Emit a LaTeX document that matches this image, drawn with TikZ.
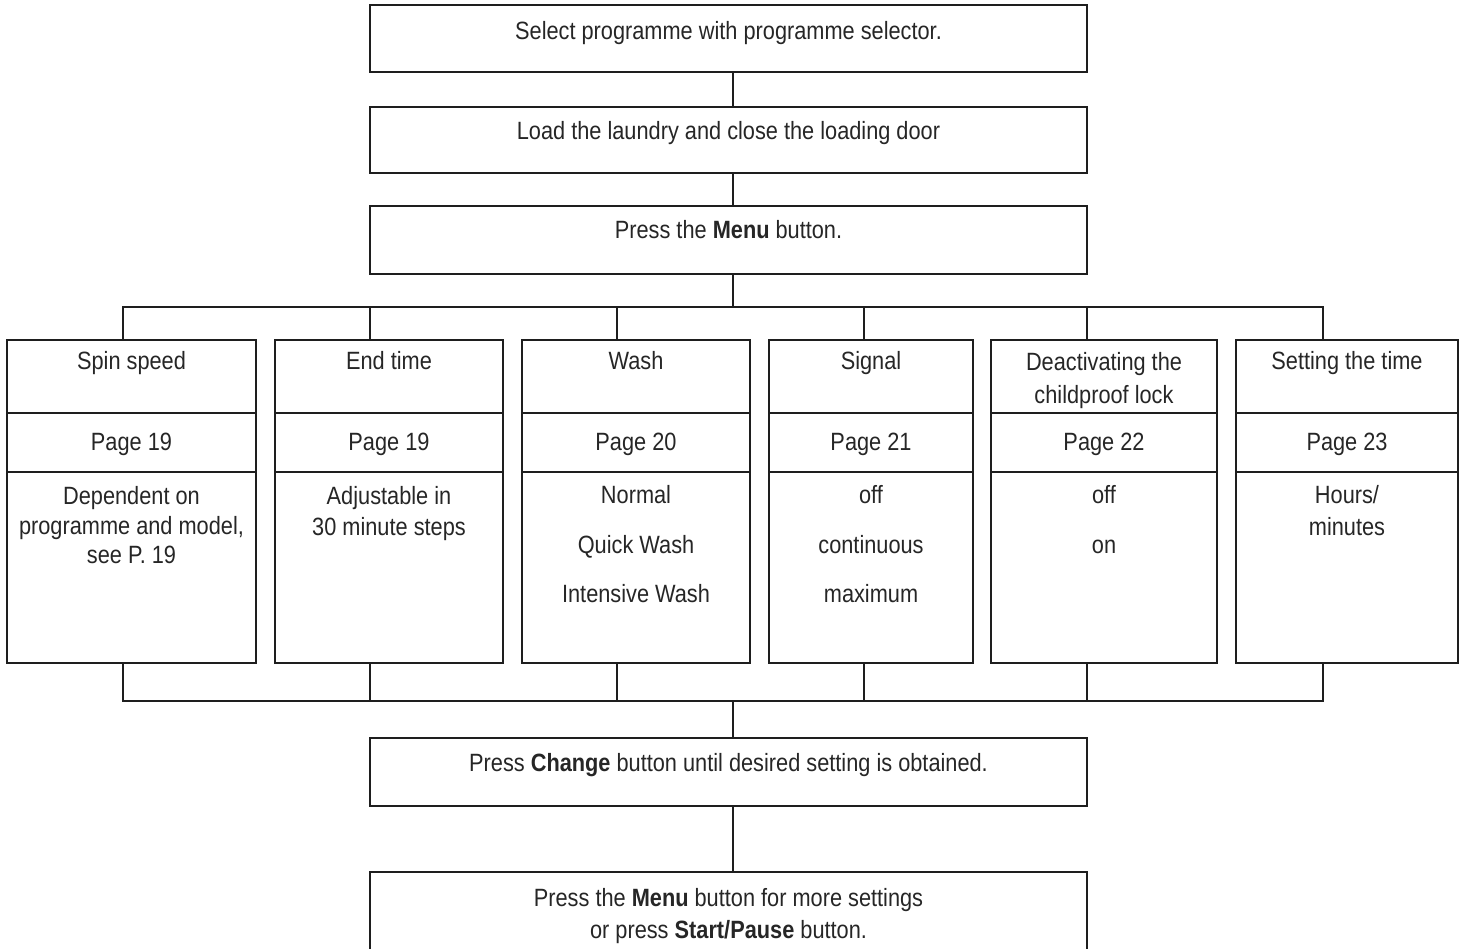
\documentclass[tikz,border=0pt]{standalone}
\usepackage{fontspec}
\setmainfont{Liberation Sans}[FakeStretch=0.87]
\definecolor{inkline}{HTML}{1E1E1E}
\definecolor{inktext}{HTML}{262626}
\begin{document}
\begin{tikzpicture}[x=1pt,y=-1pt,
  line width=1.8pt,
  wire/.style={draw=inkline, line width=1.8pt},
  flowbox/.style={draw=inkline, line width=1.8pt, rectangle, inner sep=0pt, fill=none},
  txt/.style={text=inktext, inner sep=0pt, anchor=base, font=\fontsize{25}{30}\selectfont}]
\useasboundingbox (0,0) rectangle (1467,949);
\clip (0,0) rectangle (1467,949);

% main column boxes
\node[flowbox, minimum width=717pt, minimum height=67pt] (boxA) at (728.5,38.5) {};
\node[flowbox, minimum width=717pt, minimum height=66pt] (boxB) at (728.5,140) {};
\node[flowbox, minimum width=717pt, minimum height=68pt] (boxC) at (728.5,240) {};
\node[flowbox, minimum width=717pt, minimum height=68pt] (boxD) at (728.5,772) {};
\node[flowbox, minimum width=717pt, minimum height=118pt] (boxE) at (728.5,931) {};

% setting columns
\node[flowbox, minimum width=249pt, minimum height=323pt] (col1) at (131.5,501.5) {};
\node[flowbox, minimum width=228pt, minimum height=323pt] (col2) at (389,501.5) {};
\node[flowbox, minimum width=228pt, minimum height=323pt] (col3) at (636,501.5) {};
\node[flowbox, minimum width=204pt, minimum height=323pt] (col4) at (871,501.5) {};
\node[flowbox, minimum width=226pt, minimum height=323pt] (col5) at (1104,501.5) {};
\node[flowbox, minimum width=222pt, minimum height=323pt] (col6) at (1347,501.5) {};

% divider levels
\coordinate (divA) at (0,413);
\coordinate (divB) at (0,472);
\foreach \c in {col1,col2,col3,col4,col5,col6}{
  \draw[wire] (\c.west |- divA) -- (\c.east |- divA);
  \draw[wire] (\c.west |- divB) -- (\c.east |- divB);
}

% trunk and buses
\coordinate (tx) at (733,0);
\coordinate (busT) at (733,307);
\coordinate (busB) at (733,701);
\coordinate (d1) at (123,0);
\coordinate (d2) at (370,0);
\coordinate (d3) at (617,0);
\coordinate (d4) at (864,0);
\coordinate (d5) at (1087,0);
\coordinate (d6) at (1323,0);

\draw[wire] (boxA.south -| tx) -- (boxB.north -| tx);
\draw[wire] (boxB.south -| tx) -- (boxC.north -| tx);
\draw[wire] (boxC.south -| tx) -- (busT);
\draw[wire, line cap=rect] (d1 |- busT) -- (d6 |- busT);
\draw[wire, line cap=rect] (d1 |- busB) -- (d6 |- busB);
\draw[wire] (busB) -- (boxD.north -| tx);
\draw[wire] (boxD.south -| tx) -- (boxE.north -| tx);
\foreach \c/\d in {col1/d1,col2/d2,col3/d3,col4/d4,col5/d5,col6/d6}{
  \draw[wire] (\d |- busT) -- (\c.north -| \d);
  \draw[wire] (\c.south -| \d) -- (\d |- busB);
}

% texts of main boxes
\node[txt] (tA) at (728.5,40) {Select programme with programme selector.};
\node[txt] (tB) at (728.5,140) {Load the laundry and close the loading door};
\node[txt] (tC) at (728.5,239) {Press the \textbf{Menu} button.};
\node[txt] (tD) at (728.5,771) {Press \textbf{Change} button until desired setting is obtained.};
\node[txt] (tE1) at (728.5,906) {Press the \textbf{Menu} button for more settings};
\node[txt] (tE2) at (728.5,938) {or press \textbf{Start/Pause} button.};

% column 1
\node[txt] (c1a) at (131.5,370) {Spin speed};
\node[txt] (c1b) at (131.5,450) {Page 19};
\node[txt] (c1c) at (131.5,504) {Dependent on};
\node[txt] (c1d) at (131.5,534) {programme and model,};
\node[txt] (c1e) at (131.5,563) {see P. 19};
% column 2
\node[txt] (c2a) at (389,370) {End time};
\node[txt] (c2b) at (389,450) {Page 19};
\node[txt] (c2c) at (389,504) {Adjustable in};
\node[txt] (c2d) at (389,535) {30 minute steps};
% column 3
\node[txt] (c3a) at (636,370) {Wash};
\node[txt] (c3b) at (636,450) {Page 20};
\node[txt] (c3c) at (636,503) {Normal};
\node[txt] (c3d) at (636,553) {Quick Wash};
\node[txt] (c3e) at (636,602) {Intensive Wash};
% column 4
\node[txt] (c4a) at (871,370) {Signal};
\node[txt] (c4b) at (871,450) {Page 21};
\node[txt] (c4c) at (871,503) {off};
\node[txt] (c4d) at (871,553) {continuous};
\node[txt] (c4e) at (871,602) {maximum};
% column 5
\node[txt] (c5a) at (1104,371) {Deactivating the};
\node[txt] (c5b) at (1104,403) {childproof lock};
\node[txt] (c5c) at (1104,450) {Page 22};
\node[txt] (c5d) at (1104,503) {off};
\node[txt] (c5e) at (1104,553) {on};
% column 6
\node[txt] (c6a) at (1347,370) {Setting the time};
\node[txt] (c6b) at (1347,450) {Page 23};
\node[txt] (c6c) at (1347,503) {Hours/};
\node[txt] (c6d) at (1347,535) {minutes};
\end{tikzpicture}
\end{document}
